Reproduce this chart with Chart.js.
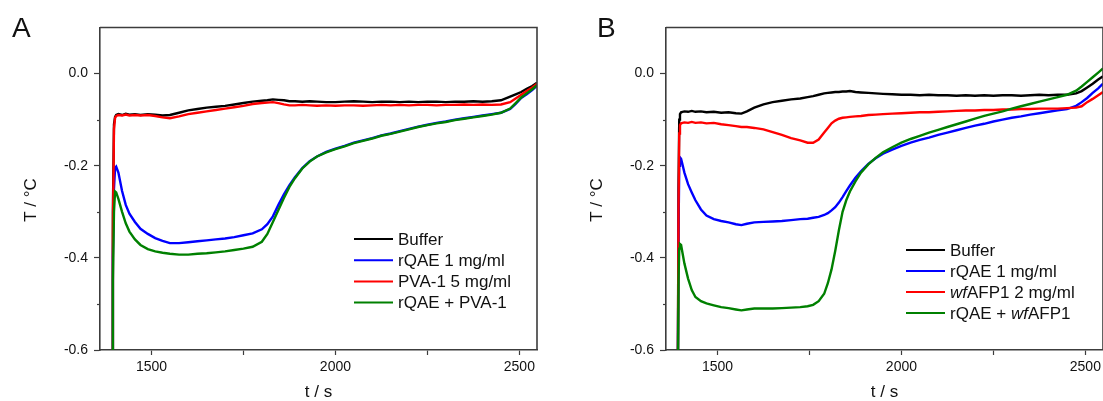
<!DOCTYPE html>
<html>
<head>
<meta charset="utf-8">
<script src="https://cdn.jsdelivr.net/npm/chart.js@4.4.1/dist/chart.umd.min.js"></script>
<style>
  html, body { margin: 0; padding: 0; background: #fff; overflow: hidden; }
  #wrap { position: relative; width: 1103px; height: 401px; overflow: hidden; }
  canvas { position: absolute; top: 0; }
  #chartA { left: 0; }
  #chartB { left: 566px; }
</style>
</head>
<body>
<div id="wrap">
  <canvas id="chartA" width="566" height="401"></canvas>
  <canvas id="chartB" width="566" height="401"></canvas>
</div>
<script>
const FONT = '"Liberation Sans", Arial, sans-serif';

// panel A: time (s) and temperature (°C)
const timesA = [
    1393, 1395, 1398, 1401, 1404, 1410, 1420, 1430, 1440, 1455,
    1470, 1490, 1510, 1530, 1550, 1575, 1600, 1625, 1650, 1675,
    1700, 1725, 1750, 1775, 1800, 1815, 1830, 1845, 1860, 1875,
    1890, 1910, 1930, 1950, 1975, 2000, 2025, 2050, 2075, 2100,
    2125, 2150, 2175, 2200, 2225, 2250, 2275, 2300, 2325, 2350,
    2375, 2400, 2425, 2450, 2475, 2490, 2505, 2520, 2535, 2548];
const bufferA = [
    -0.70, -0.30, -0.11, -0.094, -0.090, -0.088, -0.090, -0.087, -0.089, -0.088,
    -0.090, -0.088, -0.089, -0.091, -0.090, -0.085, -0.080, -0.077, -0.074, -0.072,
    -0.070, -0.067, -0.064, -0.061, -0.059, -0.058, -0.056, -0.057, -0.058, -0.060,
    -0.060, -0.061, -0.060, -0.061, -0.062, -0.062, -0.061, -0.060, -0.061, -0.062,
    -0.061, -0.061, -0.062, -0.061, -0.062, -0.061, -0.061, -0.062, -0.061, -0.061,
    -0.060, -0.061, -0.060, -0.058, -0.050, -0.045, -0.040, -0.033, -0.027, -0.020];
const rqaeA = [
    -0.70, -0.40, -0.25, -0.205, -0.202, -0.215, -0.255, -0.285, -0.304, -0.322,
    -0.337, -0.348, -0.357, -0.363, -0.368, -0.368, -0.366, -0.364, -0.362, -0.360,
    -0.358, -0.355, -0.351, -0.347, -0.338, -0.327, -0.310, -0.285, -0.262, -0.242,
    -0.225, -0.205, -0.190, -0.180, -0.170, -0.163, -0.157, -0.150, -0.145, -0.140,
    -0.134, -0.130, -0.125, -0.120, -0.115, -0.111, -0.107, -0.104, -0.100, -0.097,
    -0.094, -0.091, -0.088, -0.085, -0.077, -0.066, -0.053, -0.045, -0.036, -0.026];
const pvaA = [
    -0.70, -0.35, -0.12, -0.096, -0.092, -0.090, -0.091, -0.089, -0.091, -0.090,
    -0.091, -0.090, -0.092, -0.095, -0.097, -0.093, -0.088, -0.085, -0.082, -0.079,
    -0.076, -0.073, -0.070, -0.066, -0.064, -0.063, -0.062, -0.064, -0.067, -0.069,
    -0.069, -0.068, -0.069, -0.070, -0.069, -0.070, -0.069, -0.069, -0.070, -0.069,
    -0.068, -0.069, -0.068, -0.069, -0.068, -0.068, -0.069, -0.068, -0.068, -0.067,
    -0.068, -0.067, -0.068, -0.067, -0.062, -0.054, -0.046, -0.038, -0.030, -0.022];
const mixA = [
    -0.70, -0.45, -0.30, -0.256, -0.258, -0.272, -0.300, -0.325, -0.343, -0.360,
    -0.372, -0.381, -0.386, -0.389, -0.391, -0.393, -0.393, -0.391, -0.390, -0.388,
    -0.386, -0.383, -0.380, -0.376, -0.365, -0.348, -0.322, -0.296, -0.270, -0.246,
    -0.227, -0.206, -0.191, -0.180, -0.171, -0.164, -0.158, -0.151, -0.146, -0.141,
    -0.135, -0.131, -0.126, -0.121, -0.116, -0.112, -0.108, -0.105, -0.101, -0.098,
    -0.095, -0.092, -0.089, -0.085, -0.076, -0.064, -0.052, -0.043, -0.034, -0.025];

// panel B
const timesB = [
    1392, 1394, 1396, 1398, 1401, 1405, 1410, 1420, 1430, 1440,
    1455, 1470, 1490, 1510, 1530, 1550, 1565, 1580, 1600, 1625,
    1650, 1675, 1700, 1725, 1745, 1760, 1775, 1790, 1800, 1810,
    1820, 1830, 1840, 1850, 1860, 1875, 1890, 1910, 1930, 1950,
    1975, 2000, 2025, 2050, 2075, 2100, 2125, 2150, 2175, 2200,
    2225, 2250, 2275, 2300, 2325, 2350, 2375, 2400, 2425, 2450,
    2475, 2490, 2505, 2520, 2535, 2548];
const bufferB = [
    -0.70, -0.25, -0.10, -0.088, -0.084, -0.083, -0.082, -0.083, -0.081, -0.083,
    -0.082, -0.084, -0.083, -0.085, -0.084, -0.086, -0.087, -0.082, -0.074, -0.067,
    -0.062, -0.059, -0.056, -0.054, -0.051, -0.049, -0.046, -0.043, -0.042, -0.041,
    -0.040, -0.040, -0.039, -0.039, -0.038, -0.040, -0.041, -0.042, -0.043, -0.044,
    -0.045, -0.046, -0.046, -0.047, -0.046, -0.047, -0.047, -0.048, -0.047, -0.048,
    -0.047, -0.048, -0.047, -0.047, -0.048, -0.047, -0.046, -0.047, -0.046, -0.046,
    -0.043, -0.038, -0.030, -0.022, -0.013, -0.006];
const rqaeB = [
    -0.70, -0.35, -0.20, -0.182, -0.185, -0.198, -0.215, -0.240, -0.258, -0.275,
    -0.295, -0.308, -0.316, -0.320, -0.323, -0.327, -0.329, -0.326, -0.323, -0.322,
    -0.321, -0.320, -0.318, -0.316, -0.315, -0.313, -0.311, -0.307, -0.303, -0.297,
    -0.290, -0.280, -0.268, -0.255, -0.243, -0.226, -0.212, -0.196, -0.184, -0.174,
    -0.165, -0.157, -0.150, -0.144, -0.139, -0.133, -0.128, -0.123, -0.118, -0.113,
    -0.109, -0.104, -0.100, -0.096, -0.093, -0.089, -0.086, -0.083, -0.080, -0.077,
    -0.070, -0.062, -0.053, -0.042, -0.032, -0.022];
const afpB = [
    -0.70, -0.30, -0.13, -0.112, -0.108, -0.107, -0.106, -0.107, -0.105, -0.107,
    -0.106, -0.108, -0.107, -0.110, -0.112, -0.114, -0.116, -0.116, -0.118, -0.121,
    -0.127, -0.133, -0.140, -0.145, -0.150, -0.150, -0.143, -0.128, -0.118, -0.108,
    -0.102, -0.098, -0.096, -0.095, -0.094, -0.093, -0.092, -0.090, -0.089, -0.088,
    -0.087, -0.086, -0.085, -0.084, -0.084, -0.083, -0.082, -0.081, -0.080, -0.080,
    -0.079, -0.079, -0.078, -0.078, -0.077, -0.077, -0.076, -0.076, -0.076, -0.075,
    -0.074, -0.071, -0.062, -0.055, -0.047, -0.040];
const mixB = [
    -0.70, -0.45, -0.38, -0.370, -0.372, -0.390, -0.412, -0.445, -0.470, -0.485,
    -0.494, -0.499, -0.503, -0.507, -0.509, -0.512, -0.514, -0.512, -0.510, -0.510,
    -0.510, -0.509, -0.508, -0.507, -0.505, -0.502, -0.494, -0.478, -0.455, -0.425,
    -0.385, -0.340, -0.300, -0.275, -0.256, -0.234, -0.215, -0.197, -0.183, -0.171,
    -0.160, -0.150, -0.142, -0.135, -0.128, -0.122, -0.116, -0.110, -0.104, -0.098,
    -0.092, -0.087, -0.082, -0.076, -0.071, -0.066, -0.061, -0.056, -0.051, -0.046,
    -0.037, -0.028, -0.018, -0.008, 0.002, 0.011];

const labelsA = ['Buffer', 'rQAE 1 mg/ml', 'PVA-1 5 mg/ml', 'rQAE + PVA-1'];
const labelsB = ['Buffer', 'rQAE 1 mg/ml', '<i>wf</i>AFP1 2 mg/ml', 'rQAE + <i>wf</i>AFP1'];
const colors = ['#000000', '#0000ff', '#ff0000', '#008000'];

const xTicks = [1500, 1750, 2000, 2250, 2500];
const xTickLabels = ['1500', '', '2000', '', '2500'];
const yTicks = [-0.6, -0.5, -0.4, -0.3, -0.2, -0.1, 0.0];
const yTickLabels = ['-0.6', '', '-0.4', '', '-0.2', '', '0.0'];

const AXIS = '#3c3c3c';

function drawRich(ctx, text, x, y) {
    const parts = text.split(/(<i>.*?<\/i>)/).filter(p => p);
    for (const p of parts) {
        const italic = p.startsWith('<i>');
        const s = italic ? p.slice(3, -4) : p;
        ctx.font = (italic ? 'italic ' : '') + '17px ' + FONT;
        ctx.fillText(s, x, y);
        x += ctx.measureText(s).width;
    }
}

// frame, minor y ticks, y title, panel letter and legend
function panelPlugin(panel) {
    return {
        id: 'panel' + panel.letter,
        afterDraw(chart) {
            const ctx = chart.ctx;
            const area = chart.chartArea;
            const y = chart.scales.y;
            ctx.save();
            ctx.strokeStyle = AXIS;
            ctx.lineWidth = 1.6;
            ctx.beginPath();
            ctx.moveTo(area.left, area.top);
            ctx.lineTo(area.right, area.top);
            ctx.lineTo(area.right, area.bottom);
            ctx.stroke();

            ctx.lineWidth = 1.2;
            yTicks.forEach((v, i) => {
                if (yTickLabels[i]) return;
                const py = Math.round(y.getPixelForValue(v)) + 0.5;
                ctx.beginPath();
                ctx.moveTo(area.left - 3, py);
                ctx.lineTo(area.left, py);
                ctx.stroke();
            });

            ctx.fillStyle = '#111';
            ctx.textAlign = 'center';
            ctx.textBaseline = 'middle';
            ctx.font = '17px ' + FONT;
            ctx.translate(31, 200);
            ctx.rotate(-Math.PI / 2);
            ctx.fillText('T / °C', 0, 0);
            ctx.setTransform(1, 0, 0, 1, 0, 0);

            ctx.textAlign = 'left';
            ctx.textBaseline = 'alphabetic';
            ctx.font = '28px ' + FONT;
            ctx.fillText(panel.letter, panel.letterX, 37);

            const lg = panel.legend;
            ctx.textBaseline = 'middle';
            panel.labels.forEach((label, i) => {
                const ry = lg.y + i * lg.step;
                ctx.strokeStyle = colors[i];
                ctx.lineWidth = 2;
                ctx.beginPath();
                ctx.moveTo(lg.x, ry);
                ctx.lineTo(lg.x + 39, ry);
                ctx.stroke();
                ctx.fillStyle = '#111';
                drawRich(ctx, label, lg.x + 44, ry + 1);
            });
            ctx.restore();
        }
    };
}

function makeChart(canvas, times, series, panel) {
    const datasets = series.map((vals, i) => ({
        label: panel.labels[i].replace(/<\/?i>/g, ''),
        data: times.map((t, k) => ({ x: t, y: vals[k] })),
        borderColor: colors[i],
        borderWidth: 2.4,
        pointRadius: 0,
        tension: 0,
        order: series.length - i
    }));
    return new Chart(canvas, {
        type: 'line',
        data: { datasets: datasets },
        options: {
            responsive: false,
            animation: false,
            devicePixelRatio: 1,
            layout: { padding: { left: 0, top: 27.5, right: 29, bottom: 0 } },
            plugins: { legend: { display: false }, tooltip: { enabled: false } },
            scales: {
                x: {
                    type: 'linear',
                    min: 1360,
                    max: 2548,
                    afterBuildTicks: s => { s.ticks = xTicks.map(v => ({ value: v })); },
                    afterFit: s => { s.height = 51; },
                    border: { color: AXIS, width: 1.6 },
                    grid: { drawOnChartArea: false, tickLength: 5, tickColor: AXIS, tickWidth: 1.2 },
                    ticks: {
                        padding: 4,
                        color: '#111',
                        font: { family: FONT, size: 14 },
                        maxRotation: 0,
                        autoSkip: false,
                        callback: (v, i) => xTickLabels[i]
                    },
                    title: {
                        display: true,
                        text: 't / s',
                        color: '#111',
                        font: { family: FONT, size: 17, lineHeight: 1 },
                        padding: { top: 0, bottom: 0 }
                    }
                },
                y: {
                    min: -0.6,
                    max: 0.1,
                    afterBuildTicks: s => { s.ticks = yTicks.map(v => ({ value: v })); },
                    afterFit: s => { s.width = 100; },
                    border: { color: AXIS, width: 1.6 },
                    grid: {
                        drawOnChartArea: false,
                        tickLength: 6,
                        tickWidth: 1.2,
                        tickColor: c => (c.tick && yTickLabels[c.index]) ? AXIS : 'rgba(0,0,0,0)'
                    },
                    ticks: {
                        padding: 6,
                        color: '#111',
                        font: { family: FONT, size: 14 },
                        autoSkip: false,
                        callback: (v, i) => yTickLabels[i]
                    }
                }
            }
        },
        plugins: [panelPlugin(panel)]
    });
}

makeChart(document.getElementById('chartA'), timesA, [bufferA, rqaeA, pvaA, mixA], {
    letter: 'A', letterX: 12, labels: labelsA,
    legend: { x: 354, y: 239, step: 21.2 }
});
makeChart(document.getElementById('chartB'), timesB, [bufferB, rqaeB, afpB, mixB], {
    letter: 'B', letterX: 31, labels: labelsB,
    legend: { x: 340, y: 250, step: 21 }
});
</script>
</body>
</html>
